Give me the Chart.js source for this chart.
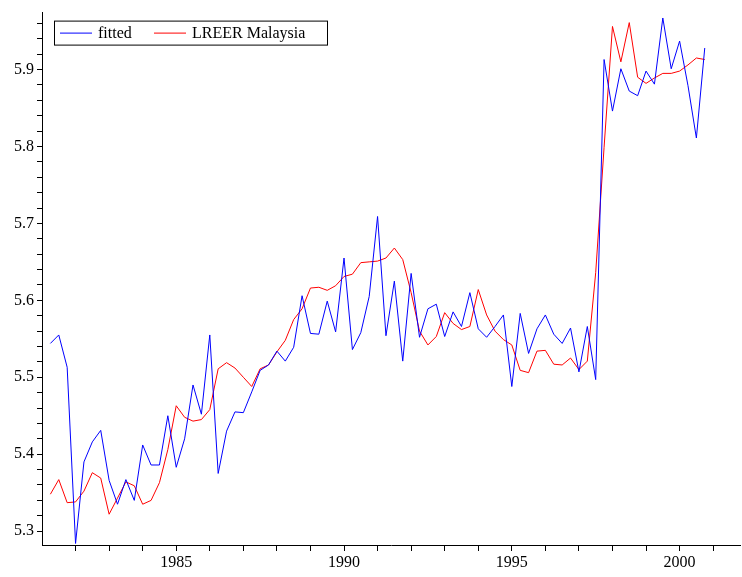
<!DOCTYPE html>
<html>
<head>
<meta charset="utf-8">
<script src="https://cdn.jsdelivr.net/npm/chart.js@4/dist/chart.umd.min.js"></script>
<style>
  html, body { margin: 0; padding: 0; background: #fff; }
  #wrap { width: 742px; height: 577px; }
</style>
</head>
<body>
<div id="wrap"><canvas id="c"></canvas></div>
<script>
// quarterly, first obs 1981 Q2
const startYear = 1981.25;
const fitted = [
  5.544, 5.555, 5.513, 5.284, 5.390, 5.416, 5.431, 5.366, 5.335, 5.367,
  5.340, 5.412, 5.386, 5.386, 5.450, 5.383, 5.420, 5.490, 5.452, 5.555,
  5.375, 5.430, 5.455, 5.454, 5.481, 5.509, 5.516, 5.534, 5.521, 5.539,
  5.606, 5.557, 5.556, 5.599, 5.559, 5.655, 5.536, 5.558, 5.605, 5.709,
  5.554, 5.625, 5.521, 5.635, 5.552, 5.589, 5.595, 5.553, 5.585, 5.566,
  5.610, 5.563, 5.552, 5.566, 5.581, 5.488, 5.583, 5.531, 5.563, 5.581,
  5.556, 5.544, 5.564, 5.507, 5.566, 5.497, 5.913, 5.846, 5.901, 5.872,
  5.866, 5.898, 5.881, 5.967, 5.901, 5.937, 5.879, 5.811, 5.928
];
const lreer = [
  5.348, 5.367, 5.337, 5.338, 5.352, 5.376, 5.369, 5.322, 5.343, 5.364,
  5.359, 5.335, 5.340, 5.363, 5.406, 5.463, 5.448, 5.443, 5.445, 5.458,
  5.511, 5.519, 5.512, 5.500, 5.488, 5.511, 5.516, 5.533, 5.548, 5.575,
  5.589, 5.616, 5.617, 5.613, 5.619, 5.631, 5.634, 5.649, 5.650, 5.651,
  5.655, 5.668, 5.653, 5.610, 5.560, 5.542, 5.553, 5.584, 5.570, 5.562,
  5.566, 5.614, 5.581, 5.560, 5.549, 5.542, 5.509, 5.506, 5.534, 5.535,
  5.517, 5.516, 5.525, 5.510, 5.521, 5.636, 5.799, 5.956, 5.910, 5.961,
  5.890, 5.882, 5.889, 5.895, 5.895, 5.898, 5.906, 5.915, 5.913
];
const yTickLabels = ["5.3", "5.4", "5.5", "5.6", "5.7", "5.8", "5.9"];
const xTickLabels = [1985, 1990, 1995, 2000];

const toXY = (arr) => arr.map((v, i) => ({ x: startYear + i / 4, y: v }));
const FONT = "'Liberation Serif', 'DejaVu Serif', serif";

// legend box drawn inside the plot, upper left
const boxLegend = {
  id: "boxLegend",
  afterDraw(chart) {
    const ctx = chart.ctx;
    const a = chart.chartArea;
    const x0 = a.left + 12, y0 = a.top + 8, w = 273, h = 24;
    ctx.save();
    ctx.strokeStyle = "#000";
    ctx.lineWidth = 1;
    ctx.fillStyle = "#fff";
    ctx.fillRect(x0, y0, w, h);
    ctx.strokeRect(x0 + 0.5, y0 + 0.5, w, h);
    ctx.font = "16px " + FONT;
    ctx.textBaseline = "middle";
    const items = [["fitted", "#0000ff", 6], ["LREER Malaysia", "#ff0000", 100]];
    items.forEach(([label, col, off]) => {
      ctx.strokeStyle = col;
      ctx.beginPath();
      ctx.moveTo(x0 + off, y0 + h / 2 + 0.5);
      ctx.lineTo(x0 + off + 32, y0 + h / 2 + 0.5);
      ctx.stroke();
      ctx.fillStyle = "#000";
      ctx.fillText(label, x0 + off + 38, y0 + h / 2 + 1);
    });
    ctx.restore();
  }
};

new Chart(document.getElementById("c"), {
  type: "line",
  data: {
    datasets: [
      { label: "fitted", data: toXY(fitted), borderColor: "#0000ff", borderWidth: 1, pointRadius: 0, tension: 0 },
      { label: "LREER Malaysia", data: toXY(lreer), borderColor: "#ff0000", borderWidth: 1, pointRadius: 0, tension: 0 }
    ]
  },
  options: {
    responsive: true,
    maintainAspectRatio: false,
    animation: false,
    layout: { padding: { top: 0, right: 2, left: 0, bottom: 0 } },
    plugins: { legend: { display: false }, tooltip: { enabled: false } },
    scales: {
      x: {
        type: "linear",
        min: 1981.0,
        max: 2001.8,
        afterFit: (s) => { s.height = 32; },
        afterBuildTicks: (s) => {
          const t = [];
          for (let y = 1982; y <= 2001; y++) t.push({ value: y });
          s.ticks = t;
        },
        ticks: {
          autoSkip: false,
          maxRotation: 0,
          color: "#000",
          font: { family: FONT, size: 16 },
          padding: 2,
          callback: (v) => xTickLabels.includes(v) ? String(v) : ""
        },
        grid: { drawOnChartArea: false, tickLength: 6, color: "#000" },
        border: { color: "#000", width: 1 }
      },
      y: {
        min: 5.282,
        max: 5.974,
        afterFit: (s) => { s.width = 42; },
        afterBuildTicks: (s) => {
          const t = [];
          for (let k = 0; k <= 33; k++) t.push({ value: (530 + k * 2) / 100 });
          s.ticks = t;
        },
        ticks: {
          autoSkip: false,
          color: "#000",
          font: { family: FONT, size: 16 },
          padding: 3,
          callback: (v) => {
            const lbl = (Math.round(v * 100) / 100).toFixed(2);
            return lbl.endsWith("0") && yTickLabels.includes(lbl.slice(0, 3)) ? lbl.slice(0, 3) : "";
          }
        },
        grid: { drawOnChartArea: false, tickLength: 5, color: "#000" },
        border: { color: "#000", width: 1 }
      }
    }
  },
  plugins: [boxLegend]
});
</script>
</body>
</html>
